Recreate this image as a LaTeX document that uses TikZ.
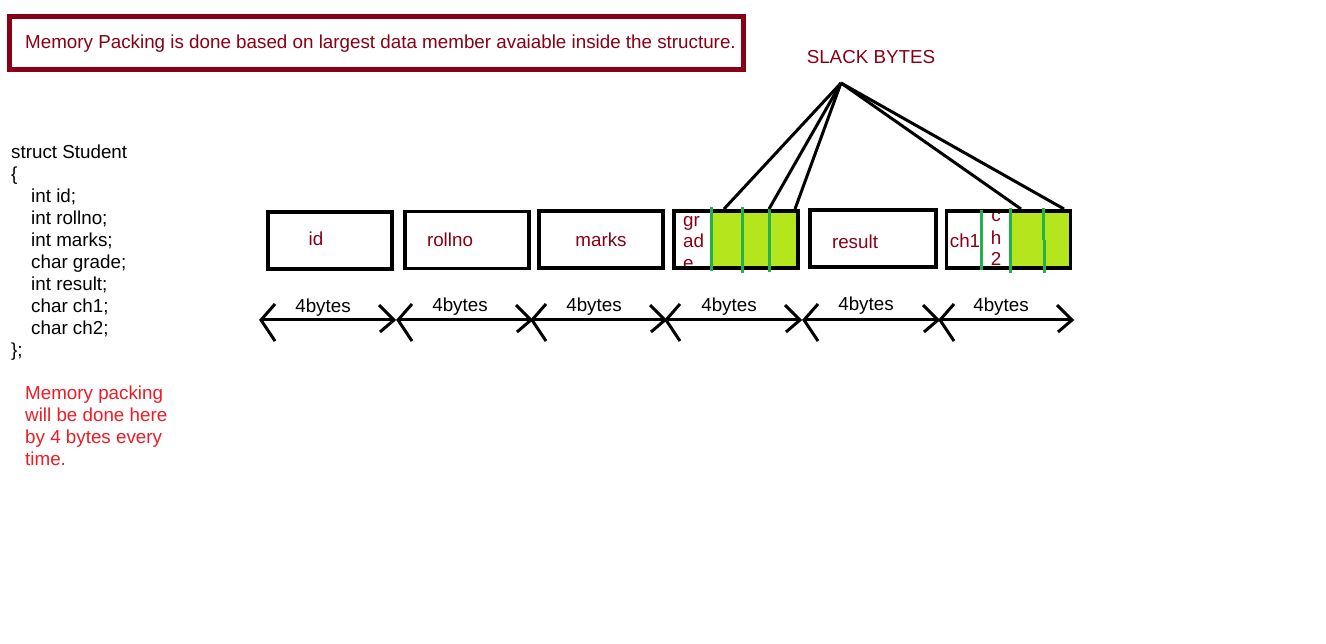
\documentclass[tikz,border=0pt]{standalone}
\usepackage{fontspec}
\setmainfont{Liberation Sans}
\usetikzlibrary{calc}
\definecolor{pdred}{RGB}{136,0,21}
\definecolor{pred}{RGB}{237,28,36}
\definecolor{pgreen}{RGB}{34,177,76}
\definecolor{plime}{RGB}{181,230,29}
\begin{document}
\begin{tikzpicture}[x=1pt,y=-1pt,
  txt/.style={inner sep=0pt,font=\fontsize{18.8}{22}\selectfont},
  lbl/.style={txt,text=pdred},
  cell/.style={draw=black,line width=3.2pt,minimum width=124pt,minimum height=57pt,inner sep=0pt},
  gline/.style={draw=pgreen,line width=3pt},
  slack/.style={draw=black,line width=3pt},
  dim/.style={draw=black,line width=3pt},
  head/.style={draw=black,line width=3pt,line join=miter}]
\useasboundingbox[fill=white] (0,0) rectangle (1326,644);

% title box
\node[draw=pdred,line width=5pt,minimum width=734pt,minimum height=53pt,inner sep=0pt] (tbox) at (376.5,43) {};
\node[lbl,anchor=base west] (ttext) at (25,49) {Memory Packing is done based on largest data member avaiable inside the structure.};

% struct text
\node[txt,anchor=north west,align=left] (code) at (11,145) {struct Student\\
\{\\
\hspace*{20pt}int id;\\
\hspace*{20pt}int rollno;\\
\hspace*{20pt}int marks;\\
\hspace*{20pt}char grade;\\
\hspace*{20pt}int result;\\
\hspace*{20pt}char ch1;\\
\hspace*{20pt}char ch2;\\
\};};

\node[txt,text=pred,anchor=north west,align=left] (note) at (25,386) {Memory packing\\will be done here\\by 4 bytes every\\time.};

% slack label
\node[lbl] (slk) at (871,57) {SLACK BYTES};

% lime fills
\fill[plime] (711,211.5) rectangle (797.5,267.5);
\fill[plime] (1010,211.5) rectangle (1070.5,267.5);

% labels in cells
\node[lbl] (lid) at (316,239) {id};
\node[lbl] (lroll) at (450,240) {rollno};
\node[lbl] (lmarks) at (601,240) {marks};
\node[lbl] (lres) at (855,242) {result};
\node[lbl] (lch1) at (965,241) {ch1};
\begin{scope}
\clip (673,210) rectangle (800,271);
\node[lbl,anchor=base west] (lg1) at (683,227) {gr};
\node[lbl,anchor=base west] (lg2) at (683,248) {ad};
\node[lbl,anchor=base west] (lg3) at (683,270) {e};
\end{scope}
\node[lbl,anchor=base] (lc1) at (996,222) {c};
\node[lbl,anchor=base] (lc2) at (996,245) {h};
\node[lbl,anchor=base] (lc3) at (996,266) {2};

% cells
\node[cell] (b1) at (330,240.5) {};
\node[cell] (b2) at (467,240) {};
\node[cell] (b3) at (601,239.5) {};
\node[cell] (b4) at (736,239.5) {};
\node[cell,minimum width=126pt] (b5) at (873,238.5) {};
\node[cell] (b6) at (1008.5,239.5) {};

% green separators
\draw[gline] (711,207) -- (711,271);
\draw[gline] (742,207) -- (742,273);
\draw[gline] (769,207) -- (769,272);
\draw[gline] (981,210) -- (981,270);
\draw[gline] (1010,208) -- (1010,273);
\draw[gline] (1043,208) -- (1043,240) (1044,240) -- (1044,273);

% slack lines
\coordinate (apex) at (841,83);
\coordinate (s1) at (724,209);
\coordinate (s2) at (769,209);
\coordinate (s3) at (795,209);
\coordinate (s4) at (1021,209);
\coordinate (s5) at (1064,209);
\foreach \s in {s1,s2,s3,s4,s5} \draw[slack] (apex) -- (\s);

% dimension arrows
\foreach \a/\b/\cx/\ty [count=\i] in {261/394/323/307, 398/531/460/306, 532/665/594/306, 666/800/729/306, 804/938/866/305, 940/1072/1001/306}{
  \coordinate (L\i) at (\a,320);
  \coordinate (R\i) at (\b,320);
  \draw[dim] (L\i) -- (R\i);
  \draw[head] ($(L\i)+(14,-16)$) -- (L\i) -- ($(L\i)+(14,21)$);
  \draw[head] ($(R\i)+(-15,-15)$) -- (R\i) -- ($(R\i)+(-14,12)$);
  \node[txt] (w\i) at (\cx,\ty+1) {4bytes};
}
\end{tikzpicture}
\end{document}
